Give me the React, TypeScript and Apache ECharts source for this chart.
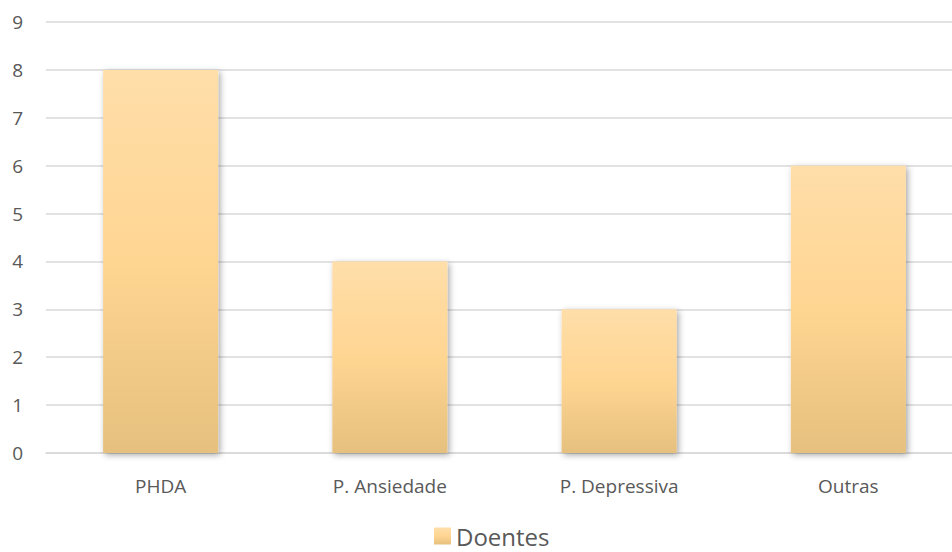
import React, { useEffect, useRef } from "react";
import * as echarts from "echarts";

const categories = ["PHDA", "P. Ansiedade", "P. Depressiva", "Outras"];
const doentes = [8, 4, 3, 6];
const seriesName = "Doentes";

export default function App() {
  const ref = useRef<HTMLDivElement>(null);
  useEffect(() => {
    const chart = echarts.init(ref.current!, null, { renderer: "svg" });
    const grad = new echarts.graphic.LinearGradient(0, 0, 0, 1, [
      { offset: 0, color: "#FFDEA9" },
      { offset: 0.5, color: "#FFD592" },
      { offset: 1, color: "#E6C07E" },
    ]);
    chart.setOption({
      animation: false,
      textStyle: { fontFamily: "Open Sans" },
      grid: { left: 46, right: 0, top: 22, bottom: 99, containLabel: false },
      legend: {
        bottom: 3,
        left: 434,
        padding: 0,
        itemWidth: 17,
        itemHeight: 17,
        itemGap: 7,
        textStyle: {
          fontSize: 24,
          lineHeight: 26,
          color: "#595959",
          fontFamily: "Open Sans",
        },
        data: [{ name: seriesName, icon: "rect" }],
      },
      xAxis: {
        type: "category",
        data: categories,
        axisLine: { show: true, lineStyle: { color: "#D9D9D9", width: 1.5 } },
        axisTick: { show: false },
        axisLabel: { color: "#595959", fontSize: 19, margin: 23 },
      },
      yAxis: {
        type: "value",
        min: 0,
        max: 9,
        interval: 1,
        axisLine: { show: false },
        axisTick: { show: false },
        axisLabel: { color: "#595959", fontSize: 19, margin: 23 },
        splitLine: { lineStyle: { color: "#D9D9D9", width: 1.5 } },
      },
      series: [
        {
          name: seriesName,
          type: "bar",
          data: doentes,
          barWidth: 115,
          itemStyle: {
            color: grad,
            shadowColor: "rgba(0,0,0,0.35)",
            shadowBlur: 6,
            shadowOffsetX: 2,
            shadowOffsetY: 2,
          },
        },
      ],
    });
    return () => chart.dispose();
  }, []);
  return (
    <div
      style={{
        position: "fixed",
        left: 0,
        top: 0,
        width: 952,
        height: 552,
        overflow: "hidden",
        background: "#fff",
      }}
    >
      <div ref={ref} style={{ width: 963, height: 552 }} />
    </div>
  );
}
